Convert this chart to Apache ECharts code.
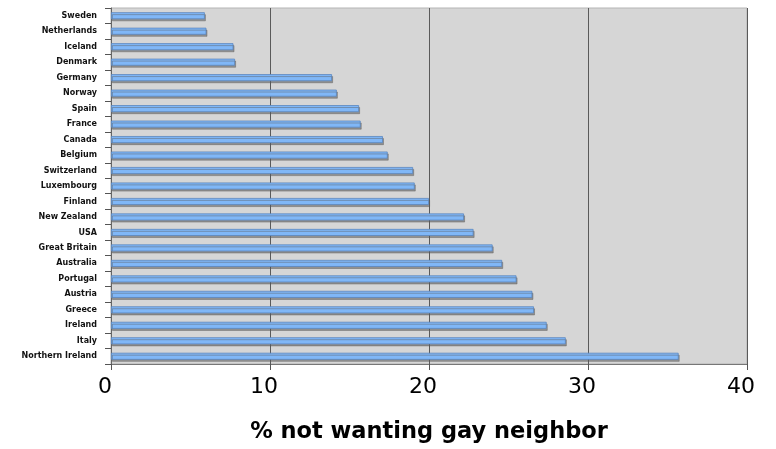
<!DOCTYPE html>
<html>
<head>
<meta charset="utf-8">
<script src="https://cdn.jsdelivr.net/npm/echarts@6/dist/echarts.min.js"></script>
<style>
html,body{margin:0;padding:0;background:#fff;}
#chart{width:776px;height:449px;}
</style>
</head>
<body>
<div id="chart"></div>
<script>
const countries = ["Sweden","Netherlands","Iceland","Denmark","Germany","Norway","Spain","France","Canada","Belgium","Switzerland","Luxembourg","Finland","New Zealand","USA","Great Britain","Australia","Portugal","Austria","Greece","Ireland","Italy","Northern Ireland"];
const percentNotWanting = [5.9,6.0,7.7,7.8,13.9,14.2,15.6,15.7,17.1,17.4,19.0,19.1,20.0,22.2,22.8,24.0,24.6,25.5,26.5,26.6,27.4,28.6,35.7];
const xTicks = [0,10,20,30,40];
const axisTitle = "% not wanting gay neighbor";

const chart = echarts.init(document.getElementById('chart'), null, {renderer:'canvas'});
chart.setOption({
  animation:false,
  backgroundColor:'#ffffff',
  grid:{left:111,right:29,top:8,bottom:82,show:true,backgroundColor:'#d6d6d6',borderColor:'#b4b4b4',borderWidth:1},
  xAxis:{
    type:'value',min:xTicks[0],max:xTicks[xTicks.length-1],interval:10,
    name:axisTitle,nameLocation:'middle',nameGap:57,
    nameTextStyle:{fontFamily:'DejaVu Sans',fontWeight:'bold',fontSize:22.5,color:'#000'},
    axisLine:{show:true,lineStyle:{color:'#777',width:1}},
    axisTick:{show:true,length:6,lineStyle:{color:'#555'}},
    axisLabel:{fontFamily:'DejaVu Sans',fontSize:22,color:'#000',margin:12,padding:[0,12,0,0]},
    splitLine:{show:true,lineStyle:{color:'#5a5a5a',width:1}}
  },
  yAxis:{
    type:'category',data:countries,inverse:true,
    axisLine:{show:true,lineStyle:{color:'#666',width:1}},
    axisTick:{show:true,length:6,lineStyle:{color:'#555'}},
    axisLabel:{fontFamily:'DejaVu Sans',fontWeight:'bold',fontSize:8,color:'#111',margin:14},
    splitLine:{show:false}
  },
  series:[{
    type:'bar',data:percentNotWanting,barWidth:7,
    itemStyle:{color:'#80b7f7',borderColor:'#5a86bf',borderWidth:0.8,
      shadowColor:'rgba(90,90,90,0.55)',shadowOffsetX:1,shadowOffsetY:2,shadowBlur:0}
  }]
});
</script>
</body>
</html>
